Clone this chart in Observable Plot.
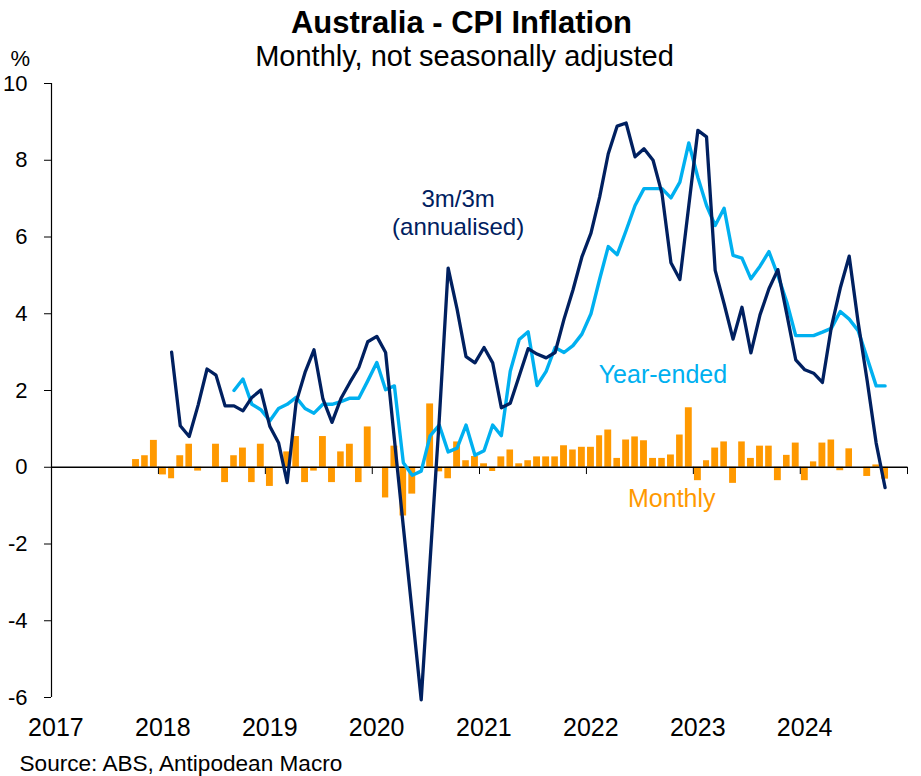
<!DOCTYPE html>
<html>
<head>
<meta charset="utf-8">
<script src="https://cdn.jsdelivr.net/npm/d3@7"></script>
<script src="https://cdn.jsdelivr.net/npm/@observablehq/plot@0.6"></script>
<style>
  body { margin: 0; background: #ffffff; }
  #chart svg { display: block; }
</style>
</head>
<body>
<div id="chart"></div>
<script>
// ---- Data ----
// Monthly % change, Oct 2017 .. Oct 2024
const monthlyStart = [2017, 10];
const monthly = [
  0.2, 0.3, 0.7,
  -0.2, -0.3, 0.3, 0.6, -0.1, 0.0, 0.6, -0.4, 0.3, 0.5, -0.4, 0.6,
  -0.5, 0.0, 0.4, 0.8, -0.4, -0.1, 0.8, -0.4, 0.4, 0.6, -0.4, 1.05,
  0.0, -0.8, 0.55, -1.27, -0.7, 0.0, 1.65, -0.12, -0.3, 0.66, 0.17, 0.28,
  0.09, -0.11, 0.27, 0.45, 0.09, 0.17, 0.27, 0.27, 0.27, 0.56, 0.45, 0.52,
  0.52, 0.82, 0.97, 0.23, 0.71, 0.79, 0.69, 0.23, 0.23, 0.32, 0.84, 1.55,
  -0.35, 0.17, 0.5, 0.66, -0.42, 0.66, 0.23, 0.55, 0.55, -0.35, 0.31, 0.63,
  -0.35, 0.14, 0.63, 0.71, -0.09, 0.48, 0.0, -0.24, 0.06, -0.31
];
// Year-ended % change, Sep 2018 .. Oct 2024
const yearEndedStart = [2018, 9];
const yearEnded = [
  2.0, 2.3, 1.64, 1.5,
  1.21, 1.53, 1.64, 1.82, 1.53, 1.41, 1.64, 1.64, 1.71, 1.8, 1.8, 2.25,
  2.73, 2.02, 2.12, 0.12, -0.21, -0.1, 0.82, 1.1, 0.4, 0.5, 1.1, 0.31,
  0.43, 1.1, 0.82, 2.5, 3.33, 3.53, 2.13, 2.5, 3.12, 2.99, 3.17, 3.47,
  4.0, 4.9, 5.75, 5.54, 6.17, 6.82, 7.26, 7.26, 7.26, 7.02, 7.43, 8.45,
  7.55, 6.82, 6.3, 6.75, 5.52, 5.45, 4.91, 5.24, 5.62, 5.0, 4.3, 3.43,
  3.43, 3.43, 3.52, 3.62, 4.06, 3.86, 3.56, 2.84, 2.12, 2.12
];
// 3m/3m annualised % change, Feb 2018 .. Oct 2024
const threeMonthStart = [2018, 2];
const threeMonth = [
  3.0, 1.08, 0.8, 1.62, 2.56, 2.4, 1.6, 1.6, 1.47, 1.82, 2.01,
  1.06, 0.64, -0.4, 1.69, 2.47, 3.06, 1.78, 1.17, 1.79, 2.21, 2.6, 3.27,
  3.41, 2.99, 0.73, -1.55, -3.8, -6.06, -2.42, 1.23, 5.19, 4.12, 2.88, 2.72,
  3.12, 2.72, 1.55, 1.67, 2.38, 3.09, 2.95, 2.85, 2.99, 3.86, 4.62, 5.48,
  6.1, 7.04, 8.17, 8.89, 8.97, 8.09, 8.3, 8.0, 7.13, 5.33, 4.89, 6.82,
  8.78, 8.61, 5.13, 4.26, 3.34, 4.17, 2.98, 3.97, 4.65, 5.15, 3.99, 2.8,
  2.54, 2.45, 2.21, 3.65, 4.67, 5.5, 3.78, 2.25, 0.63, -0.53
];
const years = [2017, 2018, 2019, 2020, 2021, 2022, 2023, 2024, 2025];
const yTicks = [-6, -4, -2, 0, 2, 4, 6, 8, 10];

// ---- Build tables ----
function series(start, values) {
  return values.map((v, i) => {
    const d0 = new Date(Date.UTC(start[0], start[1] - 1 + i, 1));
    const d1 = new Date(Date.UTC(start[0], start[1] + i, 1));
    return { date: d0, next: d1, mid: new Date((+d0 + +d1) / 2), value: v };
  });
}
const monthlyData = series(monthlyStart, monthly);
const yearEndedData = series(yearEndedStart, yearEnded);
const threeMonthData = series(threeMonthStart, threeMonth);

const yearStarts = years.map(y => new Date(Date.UTC(y, 0, 1)));
const yearLabelPos = years.slice(0, -1).map(y => new Date(Date.UTC(y, 0, 16)));

const font = "Arial, 'Liberation Sans', Helvetica, sans-serif";
const navy = "#002060";
const light = "#00B0F0";
const orange = "#FF9900";

const chart = Plot.plot({
  width: 921,
  height: 776,
  marginTop: 83,
  marginBottom: 79,
  marginLeft: 51,
  marginRight: 14,
  style: { fontFamily: font, background: "#ffffff", color: "#000" },
  x: { type: "utc", domain: [yearStarts[0], yearStarts[yearStarts.length - 1]] },
  y: { domain: [-6, 10] },
  marks: [
    Plot.rectY(monthlyData, { x1: "date", x2: "next", y: "value", fill: orange, insetLeft: 1.1, insetRight: 1.1 }),
    Plot.ruleY([0], { stroke: "#000", strokeWidth: 1.3 }),
    Plot.ruleX(yearStarts.slice(1), { y1: 0, y2: -0.19, stroke: "#000", strokeWidth: 1 }),
    Plot.ruleX([yearStarts[0]], { y1: -6, y2: 10, stroke: "#000", strokeWidth: 1.2 }),
    Plot.axisY({ ticks: yTicks, tickSize: 7, tickPadding: 17, fontSize: 22, label: null, tickFormat: d => d < 0 ? "-" + Math.abs(d) : String(d) }),
    Plot.axisX({ ticks: yearLabelPos, tickSize: 0, tickPadding: 21, fontSize: 25, label: null, tickFormat: d3.utcFormat("%Y") }),
    Plot.lineY(yearEndedData, { x: "mid", y: "value", stroke: light, strokeWidth: 3.4 }),
    Plot.lineY(threeMonthData, { x: "mid", y: "value", stroke: navy, strokeWidth: 3.3 }),
    // annotations
    Plot.text(["3m/3m\n(annualised)"], { x: new Date(Date.UTC(2020, 9, 20)), y: 7.29, text: d => d, fill: navy, fontSize: 24, lineAnchor: "top", textAnchor: "middle", lineHeight: 1.15, fontFamily: font }),
    Plot.text(["Year-ended"], { x: new Date(Date.UTC(2022, 1, 12)), y: 2.65, text: d => d, fill: light, fontSize: 25, lineAnchor: "top", textAnchor: "start", fontFamily: font }),
    Plot.text(["Monthly"], { x: new Date(Date.UTC(2022, 4, 23)), y: -0.58, text: d => d, fill: orange, fontSize: 25, lineAnchor: "top", textAnchor: "start", fontFamily: font }),
    // titles
    Plot.text(["Australia - CPI Inflation"], { frameAnchor: "top-left", dx: 410, dy: -73, text: d => d, fontSize: 31, fontWeight: "bold", lineAnchor: "top", textAnchor: "middle", fill: "#000", fontFamily: font }),
    Plot.text(["Monthly, not seasonally adjusted"], { frameAnchor: "top-left", dx: 413, dy: -38, text: d => d, fontSize: 29, lineAnchor: "top", textAnchor: "middle", fill: "#000", fontFamily: font }),
    Plot.text(["%"], { frameAnchor: "top-left", dx: -41, dy: -33, text: d => d, fontSize: 22, lineAnchor: "top", textAnchor: "start", fill: "#000", fontFamily: font }),
    Plot.text(["Source: ABS, Antipodean Macro"], { frameAnchor: "bottom-left", dx: -32, dy: 57, text: d => d, fontSize: 22.6, lineAnchor: "top", textAnchor: "start", fill: "#000", fontFamily: font })
  ]
});
document.getElementById("chart").appendChild(chart);
</script>
</body>
</html>
